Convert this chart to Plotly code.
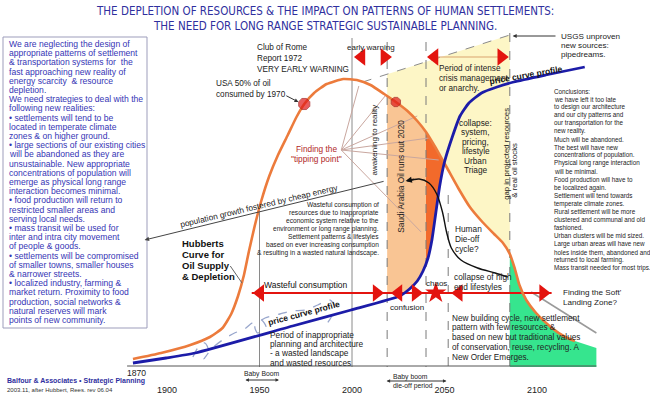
import numpy as np
import plotly.graph_objects as go

# ---------------- data (year, relative level) ----------------
hubbert_years = [1881.6, 1896.8, 1912.6, 1923.2, 1930.0, 1934.7, 1938.4, 1941.6, 1944.2, 1947.4,
                 1951.1, 1955.3, 1960.0, 1965.3, 1970.0, 1974.2, 1979.5, 1986.3, 1995.3, 2002.6,
                 2010.0, 2017.4, 2023.7, 2030.0, 2035.3, 2040.0, 2045.3, 2051.1, 2057.4, 2063.7,
                 2070.5, 2076.8, 2081.6, 2085.3, 2087.9, 2090.5, 2094.2, 2099.5, 2107.4, 2115.3,
                 2120.5]
hubbert_level = [7, 13, 21, 29, 38, 52, 70, 91, 114, 140, 166, 190, 211, 231, 249, 262, 273, 282,
                 287, 286, 281, 272, 264, 255, 245, 234, 218, 199, 178, 159, 144, 132, 123, 112,
                 98, 81, 66, 53, 39, 29, 25]

price_years = [1881.6, 1899.5, 1915.3, 1967.9, 1999.5, 2025.8, 2031.1, 2035.3, 2038.4, 2041.1,
               2043.2, 2045.3, 2047.4, 2050.0, 2054.2, 2058.4, 2063.2, 2070.0, 2078.4, 2087.4,
               2104.7, 2125.8]
price_level = [3, 8, 13, 40, 56, 70, 77, 85, 95, 108, 126, 153, 180, 204, 229, 250, 263, 273,
               279, 284, 291, 299]

speculation_years = [1914, 1917, 1920.5, 1922.5, 1920, 1924, 1930, 1936.5, 1942, 1946, 1951, 1953.5,
                     1949, 1947.5, 1953, 1961, 1967.5, 1975, 1981.5, 1988, 1991, 1988.5, 1985.5]
speculation_level = [9, 19, 23, 15, 7, 17, 26, 33, 37, 43, 46, 39, 33, 40, 48, 52, 55, 56, 61, 66,
                     59, 48, 40]

dieoff_years = [2030.0, 2036.3, 2041.6, 2045.8, 2048.9, 2051.1, 2053.7, 2058.9, 2067.9, 2077.4,
                2084.2]
dieoff_level = [185, 187, 183, 172, 154, 134, 118, 106, 98, 93, 89]

event_years = [1974.2, 2023.7]      # USA 50% of oil consumed / Saudi Arabia oil runs out

phase_solid_years = [1950, 2000]
phase_solid_top = [154, 328]
phase_dashed_years = [2019, 2040, 2052, 2085.3]
phase_dashed_top = [324, 324, 171, 333]

crisis_envelope_years = [2005.8, 2085.3]
crisis_envelope_level = [284, 331]

timeline_level = 73
timeline_years = [1945.8, 2107.9]
timeline_left_years = [1950.4, 2025.1, 2057.7]
timeline_right_years = [2013.3, 2034.4, 2103.3]
chaos_years = [2045.3]

green_end_year = 2132.1
green_end_level = 18

tick_years = [1900, 1950, 2000, 2050, 2100]
tick_labels = ["1900", "1950", "2000", "2050", "2100"]

left_lines = [
    "We are neglecting the design of",
    "appropriate patterns of settlement",
    "&amp; transportation systems for  the",
    "fast approaching new reality of",
    "energy scarcity  &amp; resource",
    "depletion.",
    "We need strategies to deal with the",
    "following new realities:",
    "• settlements will tend to be",
    "located in temperate climate",
    "zones &amp; on higher ground.",
    "• large sections of our existing cities",
    "will be abandoned as they are",
    "unsustainable. New appropriate",
    "concentrations of population will",
    "emerge as physical long range",
    "interaction becomes minimal.",
    "• food production will return to",
    "restricted smaller areas and",
    "serving local needs.",
    "• mass transit wil be used for",
    "inter and intra city movement",
    "of people &amp; goods.",
    "• settlements will be compromised",
    "of smaller towns, smaller houses",
    "&amp; narrower streets.",
    "• localized industry, farming &amp;",
    "market return. Proximity to food",
    "production, social networks &amp;",
    "natural reserves will mark",
    "points of new community.",
]

right_lines = [
    "Conclusions:",
    "we have left it too late",
    "to design our architecture",
    "and our city patterns and",
    "our transportation for the",
    "new reality.",
    "Much will be abandoned.",
    "The best will have new",
    "concentrations of population.",
    "Physical long range interaction",
    "will be minimal.",
    "Food production will have to",
    "be localized again.",
    "Settlement will tend towards",
    "temperate climate zones.",
    "Rural settlement will be more",
    "clustered and communal and old",
    "fashioned.",
    "Urban clusters will be mid sized.",
    "Large urban areas will have new",
    "holes inside them, abandoned and",
    "returned to local farming.",
    "Mass transit needed for most trips.",
]

waste_lines = [
    "Wasteful consumption of",
    "resources due to inappropriate",
    "economic system relative to the",
    "environment or long range planning.",
    "Settlement patterns &amp; lifestyles",
    "based on ever increasing consumption",
    "&amp; resulting in a wasted natural landscape.",
]

# ---------------- helpers ----------------
BODY = "Liberation Sans, Arial, Helvetica, sans-serif"
NARROW = "Liberation Sans Narrow, Arial Narrow, DejaVu Sans Condensed, sans-serif"
ORANGE = "#ec7b3c"
BLUE = "#1c1ca8"
RED = "#e3140f"

# screen placement of the year axis: pixel = PX2000 + PX_PER_YEAR * (year - 2000)
PX2000, PX_PER_YEAR = 352.0, 1.85


def X(px):
    """layout position (design units) -> year"""
    return 2000 + (px - 361) / 1.9


def Xs(screen_px):
    """true screen pixel -> year"""
    return 2000 + (screen_px - PX2000) / PX_PER_YEAR


def Y(py):
    return 366 - py


hy, hl = np.array(hubbert_years), np.array(hubbert_level, dtype=float)
py_, pl_ = np.array(price_years), np.array(price_level, dtype=float)


def hub(x):
    return np.interp(x, hy, hl)


def price(x):
    return np.interp(x, py_, pl_)


def env(x):
    return np.interp(x, crisis_envelope_years, crisis_envelope_level)


fig = go.Figure()


def poly(xs, ys, color):
    fig.add_trace(go.Scatter(x=list(xs), y=list(ys), mode="lines", fill="toself",
                             fillcolor=color, line=dict(width=0), hoverinfo="skip"))


C_, D_, E_, F_ = phase_dashed_years

# yellow crisis zone (between envelope and Hubbert curve)
xs = np.linspace(C_, F_, 80)
poly(np.r_[xs, xs[::-1]], np.r_[env(xs), hub(xs)[::-1]], "#fdf6c6")

# peach zone
xs = np.linspace(C_, D_, 60)
poly(np.r_[xs, xs[::-1]], np.r_[hub(xs), np.maximum(timeline_level, price(xs))[::-1]], "#f9c594")

# dark orange wedge between Hubbert curve and price curve
scan = np.linspace(D_, 2060, 3000)
diff = hub(scan) - price(scan)
xc = scan[np.argmax(diff <= 0)]
xs = np.linspace(D_, xc, 60)
poly(np.r_[xs, xs[::-1]], np.r_[hub(xs), price(xs)[::-1]], "#f26a2b")

# green soft landing zone
xs = np.linspace(F_, hubbert_years[-1], 60)
gx = np.r_[xs, green_end_year, green_end_year, F_]
gy = np.r_[hub(xs), green_end_level, -1, -1]
poly(gx, gy, "#36e58e")

# phase lines
sx, sy = [], []
for yv, top in zip(phase_solid_years, phase_solid_top):
    sx += [yv, yv, None]
    sy += [top, -1, None]
fig.add_trace(go.Scatter(x=sx, y=sy, mode="lines", line=dict(color="#8a8a8a", width=1),
                         hoverinfo="skip"))
dx, dy = [], []
for yv, top in zip(phase_dashed_years, phase_dashed_top):
    dx += [yv, yv, None]
    dy += [top, -1, None]
fig.add_trace(go.Scatter(x=dx, y=dy, mode="lines",
                         line=dict(color="#7a7a7a", width=1, dash="dash"), hoverinfo="skip"))
fig.add_trace(go.Scatter(x=crisis_envelope_years, y=crisis_envelope_level, mode="lines",
                         line=dict(color="#8a8a8a", width=1, dash="dash"), hoverinfo="skip"))

# tipping point fan lines
fan_ends = [(368, 86), (395, 96), (428, 116), (440, 138), (450, 160), (432, 232)]
fx, fy = [], []
for ex, ey in fan_ends:
    fx += [X(350), X(ex), None]
    fy += [Y(150), Y(ey), None]
fig.add_trace(go.Scatter(x=fx, y=fy, mode="lines", line=dict(color="#c9a79f", width=1),
                         hoverinfo="skip"))

# soft landing line
fig.add_trace(go.Scatter(x=[X(545), X(612)], y=[Y(292), Y(333)], mode="lines",
                         line=dict(color="#9a9a9a", width=1.5), hoverinfo="skip"))

# speculation squiggle
fig.add_trace(go.Scatter(x=speculation_years, y=speculation_level, mode="lines",
                         line=dict(color="#98a6cc", width=1.3, dash="dash", shape="spline",
                                   smoothing=0.8), hoverinfo="skip"))

# timeline red line
fig.add_trace(go.Scatter(x=timeline_years, y=[timeline_level] * 2, mode="lines",
                         line=dict(color=RED, width=2), hoverinfo="skip"))

# curves
fig.add_trace(go.Scatter(x=hubbert_years, y=hubbert_level, mode="lines",
                         line=dict(color=ORANGE, width=2.6, shape="spline", smoothing=0.5),
                         hoverinfo="skip"))
fig.add_trace(go.Scatter(x=price_years, y=price_level, mode="lines",
                         line=dict(color=BLUE, width=2.8, shape="spline", smoothing=0.5),
                         hoverinfo="skip"))
fig.add_trace(go.Scatter(x=dieoff_years, y=dieoff_level, mode="lines",
                         line=dict(color="#111111", width=1.4, shape="spline", smoothing=0.8),
                         hoverinfo="skip"))

fig.add_trace(go.Scatter(x=timeline_left_years, y=[timeline_level] * 3, mode="markers",
                         marker=dict(symbol="triangle-left", size=15, color=RED), hoverinfo="skip"))
fig.add_trace(go.Scatter(x=timeline_right_years, y=[timeline_level] * 3, mode="markers",
                         marker=dict(symbol="triangle-right", size=15, color=RED), hoverinfo="skip"))
fig.add_trace(go.Scatter(x=chaos_years, y=[timeline_level], mode="markers",
                         marker=dict(symbol="star", size=16, color=RED), hoverinfo="skip"))

# early warning / crisis arrows
fig.add_trace(go.Scatter(x=[X(445.7), X(514.3)], y=[Y(57)] * 2, mode="lines",
                         line=dict(color="#d9a36f", width=1), hoverinfo="skip"))
fig.add_trace(go.Scatter(x=[X(370.7), X(445.7)], y=[Y(57), Y(57)], mode="markers",
                         marker=dict(symbol="triangle-left", size=15, color=RED), hoverinfo="skip"))
fig.add_trace(go.Scatter(x=[X(394.3), X(514.3)], y=[Y(57), Y(57)], mode="markers",
                         marker=dict(symbol="triangle-right", size=15, color=RED), hoverinfo="skip"))

# event dots
fig.add_trace(go.Scatter(x=event_years, y=list(hub(np.array(event_years))), mode="markers",
                         marker=dict(symbol="octagon", size=[12, 10], color="#e01818",
                                     line=dict(color="#a01010", width=1)), hoverinfo="skip"))

# year labels
fig.add_trace(go.Scatter(x=tick_years, y=[Y(391)] * len(tick_years), mode="text",
                         text=tick_labels, textposition="middle center",
                         textfont=dict(family=BODY, size=9, color="#222222"), hoverinfo="skip"))


# ---------------- shapes ----------------
def seg(px1, py1, px2, py2, color="#555555", width=1, dash="solid"):
    fig.add_shape(type="line", x0=X(px1), y0=Y(py1), x1=X(px2), y1=Y(py2), xref="x", yref="y",
                  line=dict(color=color, width=width, dash=dash))


fig.add_shape(type="rect", x0=Xs(3), y0=Y(37), x1=Xs(147), y1=Y(328), xref="x", yref="y",
              line=dict(color="#9d9dbb", width=1), fillcolor="white", layer="below")
seg(130, 366, 612, 366, "#555555", 1)          # baseline
seg(236, 266, 248, 283, "#666666", 1)          # Hubbert leader


def note(text, px, py, size=8.5, color="#222222", xa="left", ya="middle", angle=0, family=BODY,
         screen=False):
    xv = Xs(px) if screen else X(px)
    fig.add_annotation(x=xv, y=Y(py), xref="x", yref="y", text=text, showarrow=False,
                       xanchor=xa, yanchor=ya, textangle=angle, borderpad=0,
                       font=dict(family=family, size=size, color=color))


def arrow(px1, py1, px2, py2, color="#333333", width=1, head=2, size=1.0, side="end",
          screen_start=False):
    fig.add_annotation(x=X(px2), y=Y(py2), ax=(Xs(px1) if screen_start else X(px1)), ay=Y(py1),
                       xref="x", yref="y", axref="x", ayref="y", text="", showarrow=True,
                       arrowhead=head, arrowsize=size, arrowwidth=width, arrowcolor=color,
                       arrowside=side, standoff=0, startstandoff=0)


# title
TITLE = "#2f2f9e"
note("THE DEPLETION OF RESOURCES &amp; THE IMPACT ON PATTERNS OF HUMAN SETTLEMENTS:", 325, 11,
     11.5, TITLE, "center", family=NARROW, screen=True)
note("THE NEED FOR LONG RANGE STRATEGIC SUSTAINABLE PLANNING.", 325, 26, 11.5, TITLE, "center",
     family=NARROW, screen=True)

# left box text
for i, line in enumerate(left_lines):
    note(line, 8, 44 + i * 9.2, 8.6, "#3535b5", screen=True)

# right conclusions
for i, line in enumerate(right_lines):
    note(line, 553, 91 + i * 8.05, 6.3, "#222222", screen=True)

# wasteful consumption block
for i, line in enumerate(waste_lines):
    note(line, 390, 205 + i * 8.0, 6.6, "#222222", "right")

note("Club of Rome", 262, 47, 8.2)
note("Report 1972", 262, 58, 8.2)
note("VERY EARLY WARNING", 262, 69, 8.2)
note("USA 50% of oil", 220, 83, 8.2)
note("consumed by 1970", 220, 94, 8.2)
arrow(292, 95, 306, 102, "#333333", 1, 2, 0.8)
note("Finding the", 325, 149, 8.3, "#b02828", "center")
note('"tipping point"', 325, 159, 8.3, "#b02828", "center")
note("early warning", 380, 47, 8.0, "#222222", "center")
note("Period of intense", 449, 68, 8.2)
note("crisis management", 449, 78, 8.2)
note("or anarchy.", 449, 88, 8.2)
note("USGS unproven", 560, 36, 8.1, screen=True)
note("new sources:", 560, 45, 8.1, screen=True)
note("pipedreams.", 560, 54, 8.1, screen=True)
arrow(557, 36, 526, 36, "#333333", 1, 2, 0.8, screen_start=True)
note("<b>price curve profile</b>", 540, 75, 8.5, "#111111", "center", angle=-10)
note("<b>price curve profile</b>", 312, 313, 8.5, "#111111", "center", angle=-15)
note("awakening to reality", 384, 140, 8.0, "#222222", "center", angle=-90)
note("Saudi Arabia Oil runs out 2020", 411, 176, 8.3, "#222222", "center", angle=-90)
note("gap in projected resources", 519, 154, 7.8, "#222222", "center", angle=-90)
note("&amp; real oil stocks", 527, 170, 7.8, "#222222", "center", angle=-90)
for i, line in enumerate(["collapse:", "system,", "pricing,", "lifestyle", "Urban", "Triage"]):
    note(line, 488, 123 + i * 9.4, 8.3, "#222222", "center")
note("population growth fostered by cheap energy", 265, 206, 8.3, "#222222", "center",
     angle=-13.4)
arrow(395, 181, 148, 240, "#444444", 1, 2, 0.9)
for i, line in enumerate(["Hubberts", "Curve for", "Oil Supply", "&amp; Depletion"]):
    note("<b>" + line + "</b>", 185, 243 + i * 11.3, 9.5, "#111111")
note("Wasteful consumption", 314, 285, 8.5, "#111111", "center")
note("confusion", 417, 307, 8.0, "#222222", "center")
note("chaos", 448, 283, 8.0, "#222222", "center")
note("collapse of high", 465, 277, 8.3)
note("end lifestyles", 465, 287, 8.3)
note("Human", 466, 229, 8.3)
note("Die-off", 466, 239, 8.3)
note("cycle?", 466, 249, 8.3)
arrow(426, 179, 416, 181, "#111111", 1.4, 2, 0.9)
note("Finding the Soft'", 562, 292, 8.1, screen=True)
note("Landing Zone?", 562, 302, 8.1, screen=True)
for i, line in enumerate(["Period of inappropriate", "planning and architecture",
                          "- a wasted landscape", "and wasted resources"]):
    note(line, 276, 335 + i * 9.2, 8.3)
for i, line in enumerate(["New building cycle, new settlement", "pattern with few resources &amp;",
                          "based on new but traditional values",
                          "of conservation, reuse, recycling. A", "New Order Emerges."]):
    note(line, 463, 318 + i * 9.8, 8.2)
note("Baby Boom", 268, 374, 6.8, "#222222", "center")
arrow(250, 380, 286, 380, "#333333", 1, 2, 0.7, "end+start")
note("Baby boom", 402, 377, 6.8)
note("die-off period", 402, 386, 6.8)
arrow(395, 381, 458, 381, "#333333", 1, 2, 0.7, "end+start")
note("1870", 140, 373, 8.6, "#222222", "center")
note("<b>Balfour &amp; Associates • Strategic Planning</b>", 6, 381, 7.0, "#2f2f9e", screen=True)
note("2003.11, after Hubbert, Rees. rev 06.04", 6, 390, 6.0, "#333333", screen=True)

fig.update_layout(
    width=650, height=398, margin=dict(l=0, r=0, t=0, b=0),
    paper_bgcolor="white", plot_bgcolor="white", showlegend=False, hovermode=False,
    xaxis=dict(range=[Xs(0), Xs(650)], visible=False, automargin=False, fixedrange=True),
    yaxis=dict(range=[Y(398), Y(0)], visible=False, automargin=False, fixedrange=True),
)

fig.write_html("out.html", config={"displayModeBar": False, "staticPlot": True},
               post_script="document.body.style.margin='0px';")
